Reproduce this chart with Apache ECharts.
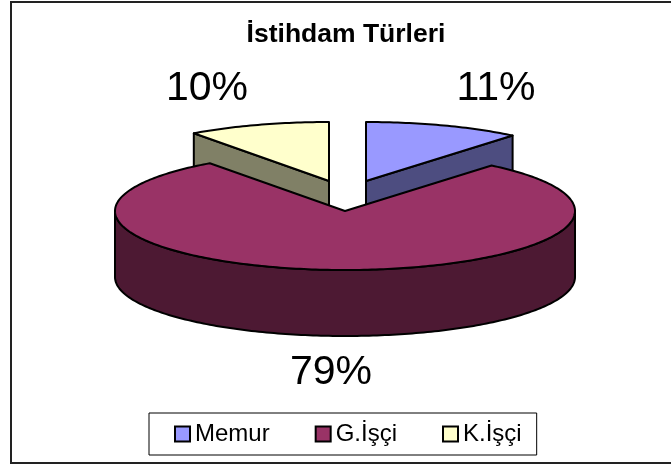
<!DOCTYPE html>
<html>
<head>
<meta charset="utf-8">
<style>html,body{margin:0;padding:0;background:#fff}#chart{width:671px;height:464px}</style>
<script src="https://cdn.jsdelivr.net/npm/echarts@6/dist/echarts.min.js"></script>
</head>
<body>
<div id="chart"></div>
<script>
const categories = ['Memur', 'G.İşçi', 'K.İşçi'];
const shares = [11, 79, 10];

const topColors = ['#9999FF', '#993366', '#FFFFCC'];
const wallColors = ['#4D4D80', '#4D1933', '#808066'];
// pie geometry, pixels
const cx = 345, cy = 211, rx = 230, ry = 59, depth = 66;
const explode = [[21, -30], [0, 0], [-16, -30]];
const labelPos = [[496, 89], [331, 373], [207, 89]];

const total = shares.reduce((a, b) => a + b, 0);

function renderSlice(params, api) {
    const i = categories.indexOf(params.seriesName);
    const before = shares.slice(0, i).reduce((a, b) => a + b, 0);
    const from = before / total * 360;
    const to = (before + api.value(0)) / total * 360;
    const ox = cx + explode[i][0], oy = cy + explode[i][1];

    const pt = (deg, dy) => {
        const t = deg * Math.PI / 180;
        return [ox + rx * Math.sin(t), oy - ry * Math.cos(t) + (dy || 0)];
    };
    const arc = (a, b, dy) => {
        const out = [];
        const n = Math.max(2, Math.ceil(Math.abs(b - a)));
        for (let k = 0; k <= n; k++) out.push(pt(a + (b - a) * k / n, dy));
        return out;
    };
    const lineStyle = { stroke: '#000', lineWidth: 2, lineJoin: 'round' };
    const children = [];

    if (i === 1) {
        // outer wall of the big slice, only the front half shows
        const wall = arc(90, 270, 0).concat(arc(270, 90, depth));
        children.push({ type: 'polygon', shape: { points: wall }, style: { fill: wallColors[i], ...lineStyle } });
    } else {
        // cut face of the exploded slice
        const edge = i === 0 ? to : from;
        const wall = [[ox, oy], pt(edge), pt(edge, depth), [ox, oy + depth]];
        children.push({ type: 'polygon', shape: { points: wall }, style: { fill: wallColors[i], ...lineStyle } });
    }
    const top = [[ox, oy]].concat(arc(from, to, 0));
    children.push({ type: 'polygon', shape: { points: top }, style: { fill: topColors[i], ...lineStyle } });
    children.push({
        type: 'text',
        style: {
            text: api.value(0) + '%',
            x: labelPos[i][0], y: labelPos[i][1],
            align: 'center', verticalAlign: 'middle',
            font: '41px "Liberation Sans", Arial, sans-serif',
            fill: '#000'
        }
    });
    return { type: 'group', children };
}

const myChart = echarts.init(document.getElementById('chart'), null, { renderer: 'canvas' });

// back slices first, the big one sits in front
const drawOrder = [2, 0, 1];

myChart.setOption({
    animation: false,
    backgroundColor: '#fff',
    title: {
        text: 'İstihdam Türleri',
        left: 341,
        top: 16,
        textAlign: 'center',
        textStyle: { fontFamily: '"Liberation Sans", Arial, sans-serif', fontSize: 26.5, fontWeight: 'bold', color: '#000' }
    },
    legend: {
        data: categories,
        left: 149,
        top: 413,
        icon: 'rect',
        itemWidth: 15,
        itemHeight: 15,
        itemGap: 45,
        padding: [9, 15, 9, 25],
        borderColor: '#000',
        borderWidth: 1,
        backgroundColor: '#fff',
        textStyle: { fontFamily: '"Liberation Sans", Arial, sans-serif', fontSize: 24, color: '#000' },
        itemStyle: { borderColor: '#000', borderWidth: 2 }
    },
    graphic: [{
        type: 'rect',
        z: -1,
        // right side runs off the page
        shape: { x: 11, y: 2, width: 670, height: 461 },
        style: { fill: 'none', stroke: '#222', lineWidth: 2 }
    }],
    series: drawOrder.map(i => ({
        name: categories[i],
        type: 'custom',
        coordinateSystem: 'none',
        itemStyle: { color: topColors[i] },
        renderItem: renderSlice,
        data: [[shares[i]]]
    }))
});

window.addEventListener('resize', () => myChart.resize());
</script>
</body>
</html>
